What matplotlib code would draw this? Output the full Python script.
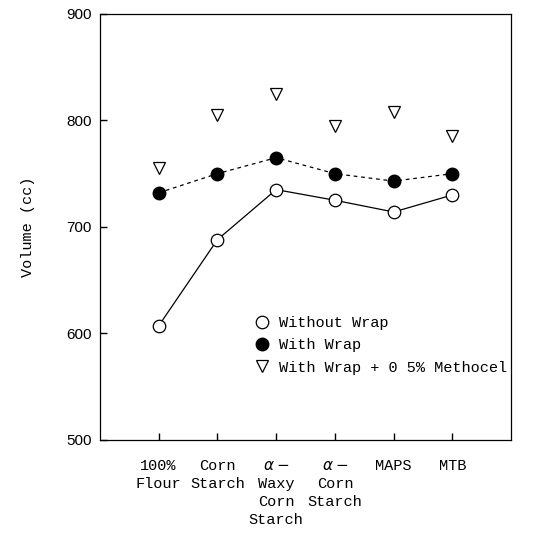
import matplotlib
matplotlib.use("Agg")
import matplotlib.pyplot as plt

# dados
categorias = ["100%\nFlour", "Corn\nStarch", "$\\alpha-$\nWaxy\nCorn\nStarch",
              "$\\alpha-$\nCorn\nStarch", "MAPS", "MTB"]
sem_wrap = [607, 688, 735, 725, 714, 730]
com_wrap = [732, 750, 765, 750, 743, 750]
com_wrap_methocel = [755, 805, 825, 795, 808, 785]
yticks = [500, 600, 700, 800, 900]

mono = "Liberation Mono"
x = list(range(1, len(categorias) + 1))

fig = plt.figure(figsize=(5.37, 5.37), dpi=100)
ax = fig.add_axes([0.186, 0.181, 0.766, 0.793])

ax.plot(x, sem_wrap, '-', color='black', lw=0.9, marker='o', ms=9,
        mfc='white', mec='black', mew=0.9, label='Without Wrap')
ax.plot(x, com_wrap, '--', color='black', lw=0.9, dashes=(3, 3), marker='o', ms=9,
        mfc='black', mec='black', label='With Wrap')
ax.plot(x, com_wrap_methocel, marker='v', ms=8.5, mfc='white', mec='black',
        mew=0.9, ls='none', label='With Wrap + 0 5% Methocel')

ax.set_xlim(0, 7)
ax.set_ylim(500, 900)
ax.set_yticks(yticks)
ax.set_yticklabels([str(v) for v in yticks], family='Liberation Sans', fontsize=11)
ax.set_xticks(x)
ax.set_xticklabels(categorias, family=mono, fontsize=11, va='top', linespacing=1.35)
ax.tick_params(axis='both', direction='in', length=5, width=1)
ax.tick_params(axis='x', pad=14)
ax.tick_params(axis='y', pad=6)

ax.set_ylabel("Volume (cc)", family=mono, fontsize=11, labelpad=22)

for s in ax.spines.values():
    s.set_linewidth(0.9)

leg = ax.legend(loc='upper left', bbox_to_anchor=(0.36, 0.305), frameon=False,
                prop={'family': mono, 'size': 11}, handlelength=1.0,
                handletextpad=0.6, labelspacing=0.55, borderaxespad=0)
# legenda sem linhas
for h in leg.legend_handles:
    h.set_linestyle('none')

fig.savefig("out.png", dpi=100)
